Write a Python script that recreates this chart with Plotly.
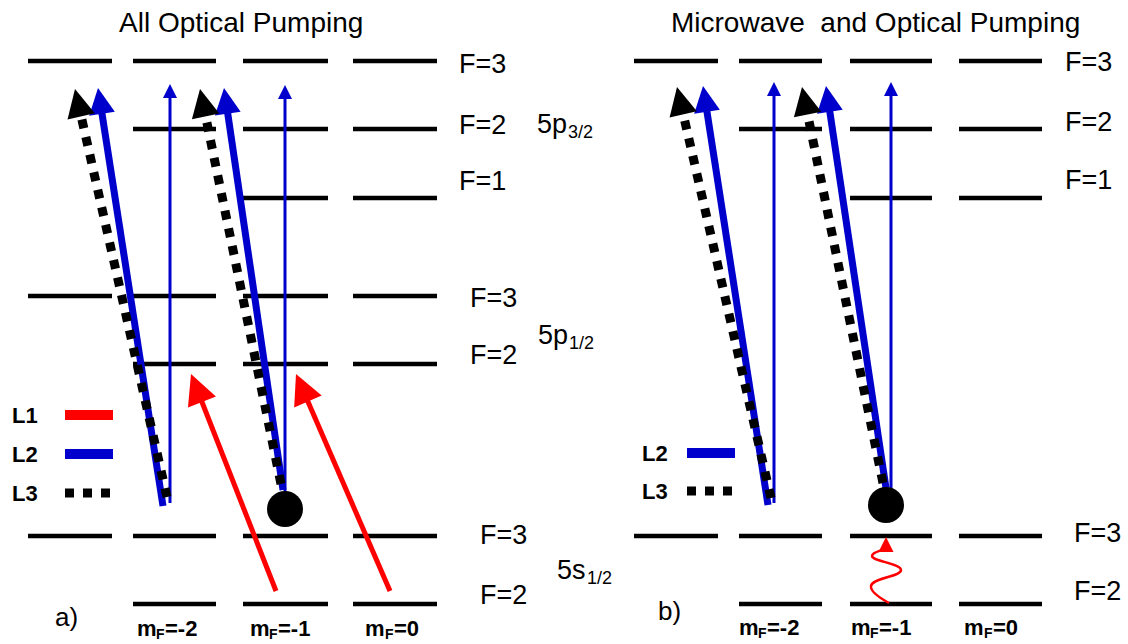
import math
import plotly.graph_objects as go

W, H = 1128, 644
FONT = "Liberation Sans, Arial, sans-serif"

# ---------------- data ----------------
# hyperfine rows (screen position of each energy level)
row_F = ["F=3", "F=2", "F=1", "F=3", "F=2", "F=3", "F=2"]
row_y = [61, 129, 198, 296, 364, 536, 604]
row_first_col = [0, 1, 2, 0, 1, 0, 1]          # first m_F column drawn (mF=-3,-2,-1,0)
row_in_b = [True, True, True, False, False, True, True]

# m_F sub-level columns for each panel
cols_a = [(28, 112), (133, 216), (243, 328), (353, 437)]
cols_b = [(634, 718), (739, 822), (850, 932), (959, 1042)]

# F labels
label_x_a = [458, 458, 458, 469, 469, 479, 479]
label_y_a = [64, 125, 181, 298, 355, 535, 595]
label_x_b = [1064, 1064, 1064, None, None, 1073, 1073]
label_y_b = [62, 122, 180, None, None, 533, 591]

# manifold labels (main part, subscript part)
manifold_main = ["5p", "5p", "5s"]
manifold_sub = ["3/2", "1/2", "1/2"]
manifold_x = [536, 537, 556]
manifold_y = [124, 335, 570]

# m_F labels
mF_value = ["-2", "-1", "0"]
mF_x_a = [166, 279, 391]
mF_x_b = [768, 880, 990]
mF_y = 628

# arrows: (kind, tail_x, tail_y, tip_x, tip_y)
arrows_a = [
    ("L1", 276, 591, 191, 374),
    ("L1", 390, 591, 296, 374),
    ("L2", 163, 506, 98, 88),
    ("L2", 283, 490, 224, 88),
    ("L2t", 170, 503, 170, 84),
    ("L2t", 285, 495, 285, 85),
    ("L3", 167, 497, 75, 89),
    ("L3", 281, 484, 200, 89),
]
arrows_b = [
    ("L2", 768, 505, 703, 86),
    ("L2", 886, 488, 826, 86),
    ("L2t", 774, 503, 774, 82),
    ("L2t", 891, 492, 891, 82),
    ("L3", 771, 498, 677, 87),
    ("L3", 883, 483, 802, 87),
]
# atoms (black dots)
atom_x = [285, 886]
atom_y = [509, 505]

# microwave wiggle (panel b)
wig_x = [889, 871, 901, 872, 886]
wig_y = [603, 586, 570, 556, 549]
wig_tip = (886, 537)

# legends
legend_a = [("L1", 415), ("L2", 454), ("L3", 493)]
legend_b = [("L2", 453), ("L3", 491)]

# ---------------- styles ----------------
style = {
    "L1": dict(color="#ff0000", width=5, dash="solid", head=30),
    "L2": dict(color="#0000cc", width=7, dash="solid", head=26),
    "L2t": dict(color="#0000cc", width=3, dash="solid", head=14),
    "L3": dict(color="#000000", width=9, dash="dot", head=28),
}
legend_color = {"L1": "#ff0000", "L2": "#0000cc", "L3": "#000000"}

# Arial / Liberation Sans advance widths (em)
W_REG = {"5": 0.556, "p": 0.556, "s": 0.5, "3": 0.556, "/": 0.278, "1": 0.556, "2": 0.556}
W_BOLD = {"m": 0.889, "F": 0.611, "=": 0.584, "-": 0.333, "0": 0.556, "1": 0.556, "2": 0.556}


def text_w(t, size, table):
    return sum(table[c] for c in t) * size


fig = go.Figure()

# ---------------- energy levels ----------------
lx, ly = [], []
for i, y in enumerate(row_y):
    for c in range(row_first_col[i], 4):
        x0, x1 = cols_a[c]
        lx += [x0, x1, None]
        ly += [y, y, None]
        if row_in_b[i]:
            x0, x1 = cols_b[c]
            lx += [x0, x1, None]
            ly += [y, y, None]
fig.add_trace(go.Scatter(x=lx, y=ly, mode="lines",
                         line=dict(color="black", width=4.5), hoverinfo="skip"))


def add_arrow(kind, tx, ty, hx, hy):
    s = style[kind]
    dx, dyu = hx - tx, ty - hy
    L = math.hypot(dx, dyu)
    back = s["head"] * 0.6
    ex = hx - dx / L * back
    ey = hy + dyu / L * back
    fig.add_trace(go.Scatter(x=[tx, ex], y=[ty, ey], mode="lines",
                             line=dict(color=s["color"], width=s["width"], dash=s["dash"]),
                             hoverinfo="skip"))
    ang = math.degrees(math.atan2(dx, dyu))
    fig.add_trace(go.Scatter(x=[hx], y=[hy], mode="markers",
                             marker=dict(symbol="arrow-up", size=s["head"], angle=ang,
                                         color=s["color"], line=dict(width=0)),
                             hoverinfo="skip"))


for a in arrows_a + arrows_b:
    add_arrow(*a)

# atoms
fig.add_trace(go.Scatter(x=atom_x, y=atom_y, mode="markers",
                         marker=dict(symbol="circle", size=36, color="black"),
                         hoverinfo="skip"))

# microwave wiggle
fig.add_trace(go.Scatter(x=wig_x, y=wig_y, mode="lines",
                         line=dict(color="#ff0000", width=2.5, shape="spline", smoothing=1.3),
                         hoverinfo="skip"))
fig.add_trace(go.Scatter(x=[wig_tip[0]], y=[wig_tip[1]], mode="markers",
                         marker=dict(symbol="arrow-up", size=15, angle=0, color="#ff0000",
                                     line=dict(width=0)), hoverinfo="skip"))


# ---------------- text ----------------
def txt(x, y, t, size, anchor="left", bold=False):
    fig.add_annotation(x=x, y=y, text=("<b>%s</b>" % t) if bold else t, showarrow=False,
                       xanchor=anchor, yanchor="middle", borderpad=0,
                       font=dict(family=FONT, size=size, color="black"))


def legend_item(name, y, text_x, x0, x1):
    if name == "L3":
        fig.add_trace(go.Scatter(x=[x0, x1], y=[y, y], mode="lines",
                                 line=dict(color="black", width=9, dash="dot"), hoverinfo="skip"))
    else:
        fig.add_trace(go.Scatter(x=[x0, x1], y=[y, y], mode="lines",
                                 line=dict(color=legend_color[name], width=10), hoverinfo="skip"))
    txt(text_x, y, name, 22, bold=True)


for name, y in legend_a:
    legend_item(name, y, 11, 65, 113)
for name, y in legend_b:
    legend_item(name, y, 641, 687, 735)

txt(241, 22, "All Optical Pumping", 28, "center")
txt(875, 22, "Microwave\u00a0 and Optical Pumping", 28, "center")

for i, F in enumerate(row_F):
    txt(label_x_a[i], label_y_a[i], F, 27)
    if label_x_b[i] is not None:
        txt(label_x_b[i], label_y_b[i], F, 27)

# manifold labels: main text + smaller lowered subscript
MS, SS = 27, 18
for m, s, x, y in zip(manifold_main, manifold_sub, manifold_x, manifold_y):
    txt(x, y, m, MS)
    txt(x + text_w(m, MS, W_REG) + 1, y + 8, s, SS)

# m_F labels: bold "m", subscript "F", then "=value"
BS, BSS = 22, 14


def mF_label(cx, y, val):
    w_m = text_w("m", BS, W_BOLD)
    w_F = text_w("F", BSS, W_BOLD)
    w_r = text_w("=" + val, BS, W_BOLD)
    x0 = cx - (w_m + w_F + w_r) / 2
    txt(x0, y, "m", BS, bold=True)
    txt(x0 + w_m, y + 6, "F", BSS, bold=True)
    txt(x0 + w_m + w_F, y, "=" + val, BS, bold=True)


for v, xa, xb in zip(mF_value, mF_x_a, mF_x_b):
    mF_label(xa, mF_y, v)
    mF_label(xb, mF_y - 1, v)

txt(54, 617, "a)", 26)
txt(657, 611, "b)", 26)

fig.update_layout(
    width=W, height=H, margin=dict(l=0, r=0, t=0, b=0),
    paper_bgcolor="white", plot_bgcolor="white", showlegend=False,
    font=dict(family=FONT, size=20, color="black"),
    xaxis=dict(range=[0, W], visible=False, fixedrange=True),
    yaxis=dict(range=[H, 0], visible=False, fixedrange=True),
)

fig.write_html("out.html", config={"displayModeBar": False, "staticPlot": True},
               post_script="document.body.style.margin='0px';document.body.style.overflow='hidden';")
